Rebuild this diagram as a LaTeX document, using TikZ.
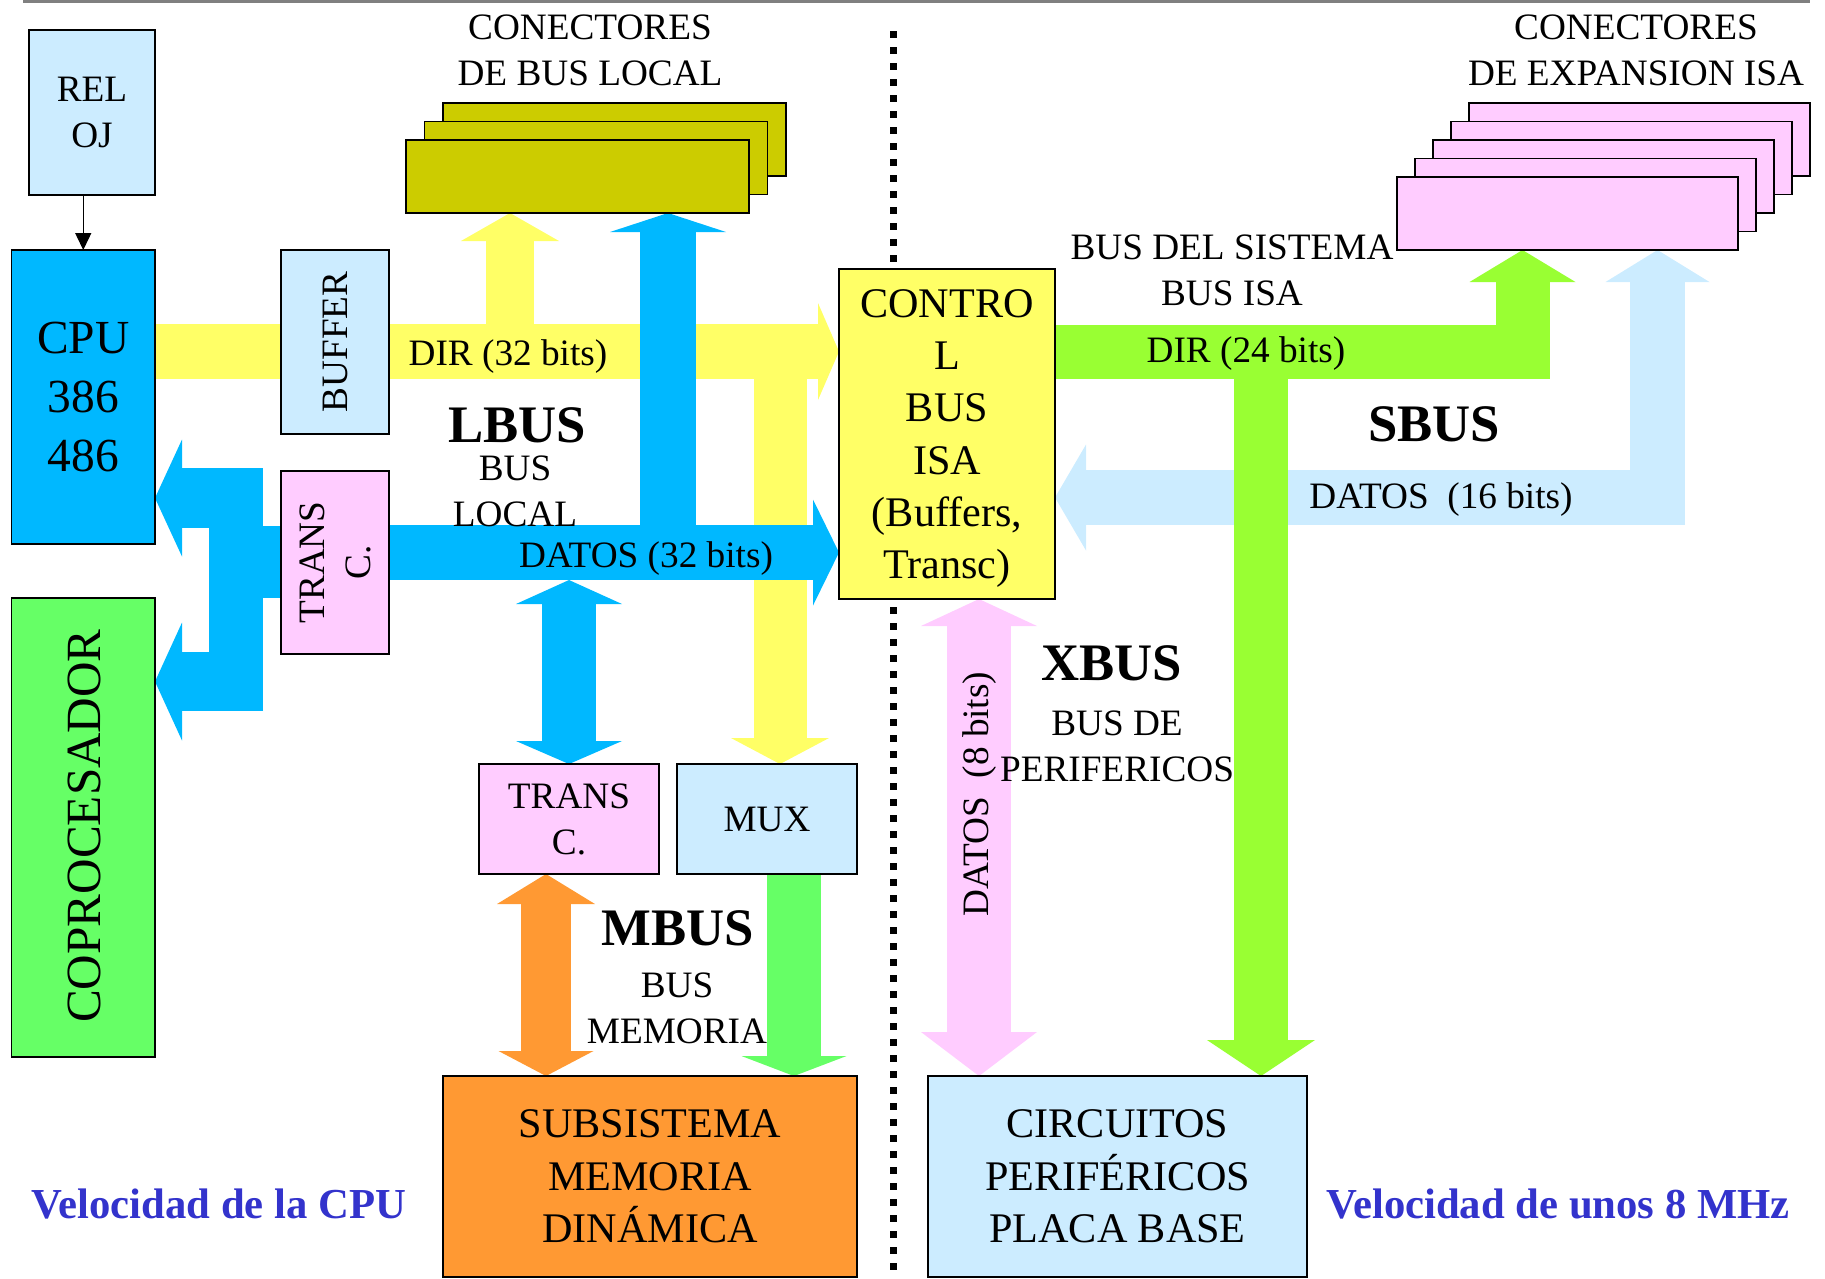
\documentclass[tikz,border=0pt]{standalone}
\usepackage{fontspec}
\setmainfont{Liberation Serif}
\usetikzlibrary{arrows.meta}
\usetikzlibrary{backgrounds}
\definecolor{ltblue}{HTML}{CCECFF}
\definecolor{cpublue}{HTML}{00B8FF}
\definecolor{copgreen}{HTML}{66FF66}
\definecolor{isagreen}{HTML}{99FF33}
\definecolor{transpink}{HTML}{FFCCFF}
\definecolor{connolive}{HTML}{CCCC00}
\definecolor{ctlyellow}{HTML}{FFFF66}
\definecolor{memorange}{HTML}{FF9933}
\definecolor{speedblue}{HTML}{3333CC}
\newcommand{\lbl}{\fontsize{10.6}{13.1}\selectfont}
\newcommand{\boxtxt}{\fontsize{12}{14.9}\selectfont}
\newcommand{\cputxt}{\fontsize{13.5}{16.8}\selectfont}
\newcommand{\coptxt}{\fontsize{14}{16.8}\selectfont}
\newcommand{\busname}{\fontsize{15}{18}\selectfont\bfseries}
\newcommand{\speed}{\fontsize{12.15}{14.4}\selectfont\bfseries}

\begin{document}
\begin{tikzpicture}[x=1mm, y=-1mm,
    box/.style={draw, line width=0.5pt, inner sep=0pt, outer sep=0pt, anchor=north west, align=center},
    bus/.style={line width=#1, line join=miter}]
    \useasboundingbox (0,0) rectangle (182.5,127.8);
    % blocks
    \node[box, fill=ltblue, minimum width=12.6mm, minimum height=16.5mm, font=\lbl] (reloj) at (2.9,3.0) {REL\\OJ};
    \node[box, fill=cpublue, minimum width=14.35mm, minimum height=29.4mm, font=\cputxt] (cpu) at (1.15,25.0) {CPU\\386\\486};
    \node[box, fill=copgreen, minimum width=14.35mm, minimum height=45.9mm] (copro) at (1.15,59.8) {};
    \node[box, fill=ltblue, minimum width=10.8mm, minimum height=18.4mm] (buffer) at (28.1,25.0) {};
    \node[box, fill=transpink, minimum width=10.8mm, minimum height=18.3mm] (transl) at (28.1,47.1) {};
    \foreach \i in {2,1,0}
      \node[box, fill=connolive, minimum width=34.3mm, minimum height=7.3mm] (lconn\i) at ({40.6+1.85*\i},{14.0-1.85*\i}) {};
    \foreach \i in {4,...,0}
      \node[box, fill=transpink, minimum width=34.1mm, minimum height=7.3mm] (iconn\i) at ({139.7+1.8*\i},{17.7-1.85*\i}) {};
    \node[box, fill=ctlyellow, minimum width=21.6mm, minimum height=33.0mm, font=\boxtxt, text depth=0pt] (control) at (83.9,26.9) {CONTRO\\L\\BUS\\ISA\\(Buffers,\\Transc)};
    \node[box, fill=transpink, minimum width=18mm, minimum height=11mm, font=\lbl] (transm) at (47.9,76.4) {TRANS\\C.};
    \node[box, fill=ltblue, minimum width=18mm, minimum height=11mm, font=\lbl] (mux) at (67.7,76.4) {MUX};
    \node[box, fill=memorange, minimum width=41.4mm, minimum height=20.1mm, font=\boxtxt] (mem) at (44.3,107.6) {SUBSISTEMA\\MEMORIA\\DINÁMICA};
    \node[box, fill=ltblue, minimum width=37.9mm, minimum height=20.1mm, font=\boxtxt] (circ) at (92.8,107.6) {CIRCUITOS\\PERIFÉRICOS\\PLACA BASE};
    % rotated texts
    \node[rotate=90, font=\coptxt] (coprotxt) at (8.4,82.6) {COPROCESADOR};
    \node[rotate=90, font=\lbl] (buffertxt) at (buffer) {BUFFER};
    \node[rotate=90, font=\lbl, align=center] (transltxt) at (transl) {TRANS\\C.};
    % buses
    \begin{scope}[on background layer]
      \draw[gray, line width=0.3mm] (2.3,0.15) -- (181.0,0.15);
      \draw[line width=0.7mm, dash pattern=on 0.7mm off 0.9mm] (89.3,3.1) -- (89.3,127.8);
      \draw[line width=0.4pt, -{Triangle[width=1.6mm,length=1.7mm]}] (reloj.south -| cpu.north) -- (cpu.north);
      % LBUS direcciones
      \draw[ctlyellow, bus=5.5mm, -{Triangle[width=9.7mm,length=2.1mm,line width=0pt]}] (cpu.east |- 0,35.15) -- (control.west |- 0,35.15);
      \draw[ctlyellow, bus=4.8mm, -{Triangle[width=9.8mm,length=2.8mm,line width=0pt]}] (51.0,35.15) -- (51.0,0 |- lconn0.south);
      \draw[ctlyellow, bus=5.3mm, -{Triangle[width=9.8mm,length=2.6mm,line width=0pt]}] (78.0,35.15) -- (78.0,0 |- mux.north);
      % LBUS datos
      \draw[cpublue, bus=5.5mm, -{Triangle[width=10.6mm,length=2.6mm,line width=0pt]}] (transl.east |- 0,55.25) -- (control.west |- 0,55.25);
      \draw[cpublue, bus=5.6mm, -{Triangle[width=11.6mm,length=1.9mm,line width=0pt]}] (66.8,55.25) -- (66.8,0 |- lconn0.south);
      \draw[cpublue, bus=5.4mm, {Triangle[width=10.6mm,length=2.4mm,line width=0pt]}-{Triangle[width=10.6mm,length=2.3mm,line width=0pt]}] (transm.north |- 0,58.0) -- (transm.north);
      \draw[cpublue, bus=5.4mm] (23.6,46.8) -- (23.6,71.1);
      \draw[cpublue, bus=7.2mm] (23.6,56.2) -- (transl.west |- 0,56.2);
      \draw[cpublue, bus=6.0mm, -{Triangle[width=11.7mm,length=2.7mm,line width=0pt]}] (26.3,49.8) -- (cpu.east |- 0,49.8);
      \draw[cpublue, bus=5.9mm, -{Triangle[width=11.8mm,length=2.7mm,line width=0pt]}] (26.3,68.15) -- (copro.east |- 0,68.15);
      % SBUS
      \draw[ltblue, bus=5.5mm, {Triangle[width=10.4mm,length=3.2mm,line width=0pt]}-{Triangle[width=10.6mm,length=3.1mm,line width=0pt]}] (165.75,0 |- iconn0.south) -- (165.75,49.75) -- (control.east |- 0,49.75);
      \draw[isagreen, bus=5.4mm, -{Triangle[width=10.6mm,length=3.2mm,line width=0pt]}] (control.east |- 0,35.15) -- (152.25,35.15) -- (152.25,0 |- iconn0.south);
      \draw[isagreen, bus=5.4mm, -{Triangle[width=10.8mm,length=3.6mm,line width=0pt]}] (126.1,35.15) -- (126.1,0 |- circ.north);
      % XBUS
      \draw[transpink, bus=6.4mm, {Triangle[width=11.6mm,length=2.7mm,line width=0pt]}-{Triangle[width=11.6mm,length=4.4mm,line width=0pt]}] (97.9,0 |- control.south) -- (97.9,0 |- circ.north);
      % MBUS
      \draw[memorange, bus=5.0mm, {Triangle[width=9.8mm,length=3.0mm,line width=0pt]}-{Triangle[width=9.5mm,length=2.5mm,line width=0pt]}] (54.6,0 |- transm.south) -- (54.6,0 |- mem.north);
      \draw[copgreen, bus=5.4mm, -{Triangle[width=10.5mm,length=2.0mm,line width=0pt]}] (79.4,0 |- mux.south) -- (79.4,0 |- mem.north);
    \end{scope}
    % labels
    \node[align=center, font=\lbl] (lconnlbl) at (59.0,5.0) {CONECTORES\\DE BUS LOCAL};
    \node[align=center, font=\lbl] (iconnlbl) at (163.6,5.0) {CONECTORES\\DE EXPANSION ISA};
    \node[font=\lbl] (dir32) at (50.8,35.65) {DIR (32 bits)};
    \node[font=\busname] (lbus) at (51.7,42.5) {LBUS};
    \node[align=center, font=\lbl] (lbuslbl) at (51.5,49.1) {BUS\\LOCAL};
    \node[font=\lbl] (dat32) at (64.6,55.9) {DATOS (32 bits)};
    \node[font=\busname] (mbus) at (67.8,92.8) {MBUS};
    \node[align=center, font=\lbl] (mbuslbl) at (67.7,100.8) {BUS\\MEMORIA};
    \node[align=center, font=\lbl] (sislbl) at (123.2,27.0) {BUS DEL SISTEMA\\BUS ISA};
    \node[font=\lbl] (dir24) at (124.6,35.35) {DIR (24 bits)};
    \node[font=\busname] (sbus) at (143.4,42.4) {SBUS};
    \node[font=\lbl] (dat16) at (144.1,49.95) {DATOS\ \ (16 bits)};
    \node[font=\busname] (xbus) at (111.2,66.3) {XBUS};
    \node[align=center, font=\lbl] (xbuslbl) at (111.7,74.6) {BUS DE\\PERIFERICOS};
    \node[rotate=90, font=\lbl] (dat8) at (98.0,79.4) {DATOS\ \ (8 bits)};
    \node[font=\speed, text=speedblue] (vcpu) at (21.9,120.4) {Velocidad de la CPU};
    \node[font=\speed, text=speedblue] (vmhz) at (155.8,120.4) {Velocidad de unos 8 MHz};
\end{tikzpicture}
\end{document}
